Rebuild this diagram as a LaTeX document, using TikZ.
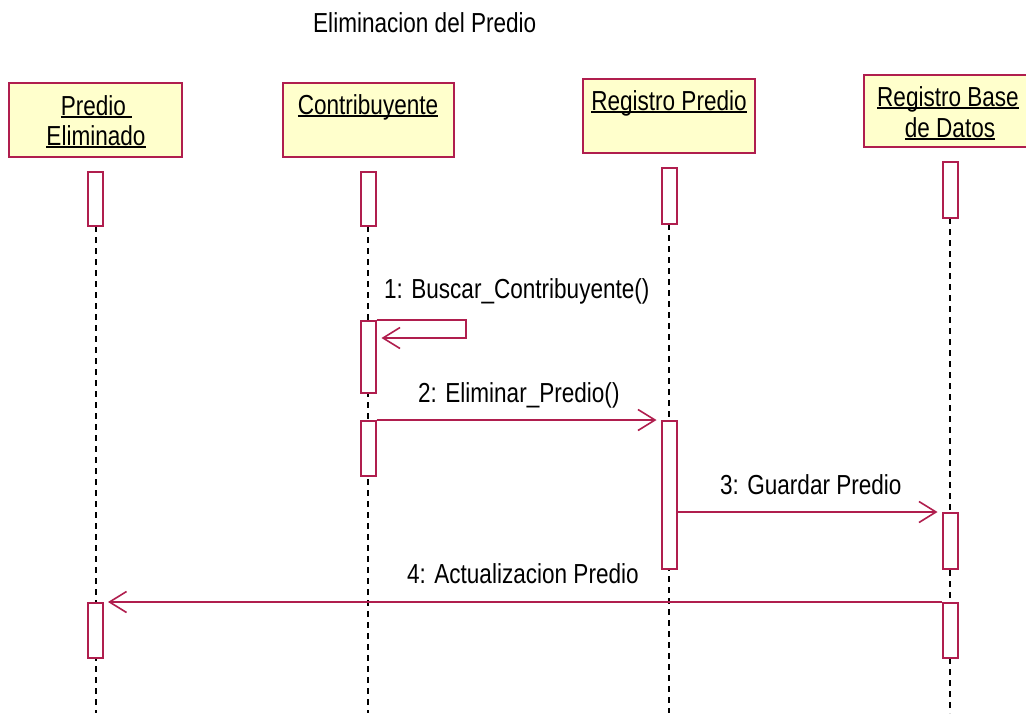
\documentclass[tikz,border=0pt]{standalone}
\usepackage{fontspec}
\setmainfont{Liberation Sans}[FakeStretch=0.82]
\usetikzlibrary{arrows.meta,calc}
\definecolor{crim}{RGB}{176,30,78}
\definecolor{boxfill}{RGB}{255,255,204}
\newcommand\myul[1]{\setbox0\hbox{#1}\rlap{\rule[-3.2pt]{\wd0}{1.8pt}}\box0}
\begin{document}
\begin{tikzpicture}[x=1pt,y=-1pt,
  lbl/.style={font=\fontsize{27.5}{30}\selectfont, inner sep=0pt, text=black},
  hdr/.style={draw=crim, fill=boxfill, line width=2pt, inner sep=0pt},
  act/.style={draw=crim, fill=white, line width=2pt, inner sep=0pt, minimum width=15pt},
  msg/.style={draw=crim, line width=2pt, -{Straight Barb[length=17pt,width=21pt,line width=1.6pt]}, shorten >=4pt},
  life/.style={draw=black, line width=2pt, dash pattern=on 6pt off 5pt}]
\clip (0,0) rectangle (1026,713);
\fill[white] (0,0) rectangle (1026,713);
% title
\node[lbl, anchor=base west] (title) at (313,32) {Eliminacion del Predio};
% header boxes
\node[hdr, minimum width=173pt, minimum height=74pt] (pe) at (95.5,120) {};
\node[hdr, minimum width=171pt, minimum height=74pt] (co) at (368.5,120) {};
\node[hdr, minimum width=172pt, minimum height=74pt] (rp) at (669,116) {};
\node[hdr, minimum width=170pt, minimum height=72pt] (bd) at (949,111) {};
\node[lbl, anchor=base] (pet1) at (96.5,115) {\myul{Predio\ }};
\node[lbl, anchor=base] (pet2) at (96,145) {\myul{Eliminado}};
\node[lbl, anchor=base] (cot) at (368,114) {\myul{Contribuyente}};
\node[lbl, anchor=base] (rpt) at (669,110) {\myul{Registro Predio}};
\node[lbl, anchor=base] (bdt1) at (948,106) {\myul{Registro Base}};
\node[lbl, anchor=base] (bdt2) at (950,137) {\myul{de Datos}};
% lifeline end points
\coordinate (peb) at (96,226);
\coordinate (cob) at (368,226);
\coordinate (rpb) at (669,224);
\coordinate (bdb) at (950,218);
\coordinate (pee) at (96,713);
\coordinate (coe) at (368,713);
\coordinate (rpe) at (669,713);
\coordinate (bde) at (950,713);
% lifelines
\draw[life] (peb) -- (pee);
\draw[life] (cob) -- (coe);
\draw[life] (rpb) -- (rpe);
\draw[life] (bdb) -- (bde);
% activations
\node[act, minimum height=54pt] (pe0) at (95.5,199) {};
\node[act, minimum height=54pt] (co0) at (368,199) {};
\node[act, minimum height=56pt] (rp0) at (669,196) {};
\node[act, minimum height=56pt] (bd0) at (950,190) {};
\node[act, minimum height=72pt] (co1) at (368,357) {};
\node[act, minimum height=55pt] (co2) at (368,448.5) {};
\node[act, minimum height=148pt] (rp1) at (669,495) {};
\node[act, minimum height=56pt] (bd1) at (950,541) {};
\node[act, minimum height=55pt] (bd2) at (950,630.5) {};
\node[act, minimum height=55pt] (pe1) at (95.5,630.5) {};
% messages
\draw[msg, shorten >=5pt] (co1.north east) -- ++(89,0) |- ([yshift=-18pt]co1.north east);
\node[lbl, anchor=base west] (m1) at (384,298) {1: Buscar\_Contribuyente()};
\draw[msg] (co2.north east) -- (rp1.north west);
\node[lbl, anchor=base west] (m2) at (418,402) {2: Eliminar\_Predio()};
\draw[msg] (rp1.east |- bd1.north west) -- (bd1.north west);
\node[lbl, anchor=base west] (m3) at (720,494) {3: Guardar Predio};
\draw[msg] (bd2.north west) -- (pe1.north east);
\node[lbl, anchor=base west] (m4) at (407,583) {4: Actualizacion Predio};
\end{tikzpicture}
\end{document}
